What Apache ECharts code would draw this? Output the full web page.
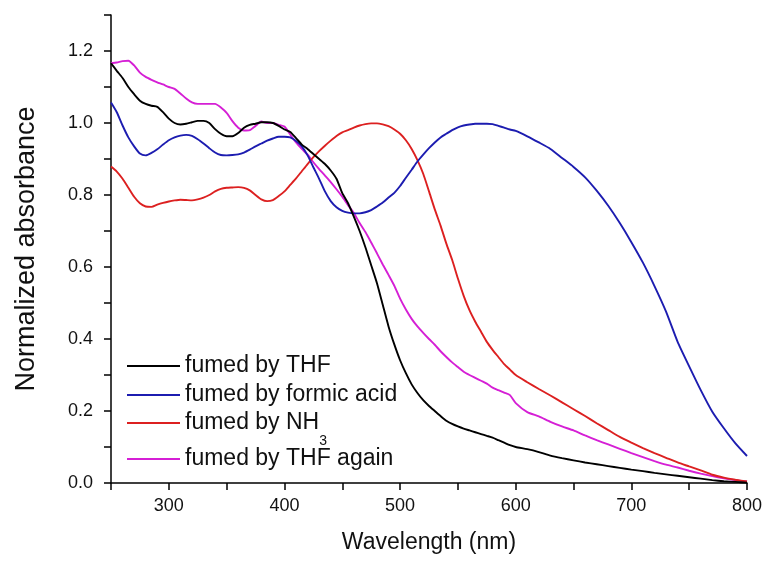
<!DOCTYPE html>
<html>
<head>
<meta charset="utf-8">
<script src="https://cdn.jsdelivr.net/npm/echarts@6/dist/echarts.min.js"></script>
<style>
html,body{margin:0;padding:0;background:#fff;}
#chart{width:768px;height:561px;}
</style>
</head>
<body>
<div id="chart"></div>
<script>
// Wavelength grid (nm)
var wavelengths = [
  250,255,260,265,270,275,280,285,290,295,
  300,305,310,315,320,325,330,335,340,345,
  350,355,360,365,370,375,380,385,390,395,
  400,405,410,415,420,425,430,435,440,445,
  450,455,460,465,470,475,480,485,490,495,
  500,505,510,515,520,525,530,535,540,545,
  550,555,560,565,570,575,580,585,590,595,
  600,610,620,630,640,650,660,670,680,690,
  700,710,720,730,740,750,760,770,780,790,
  800
];
var fumedTHF = [
  1.166,1.145,1.125,1.100,1.080,1.062,1.053,1.048,1.045,1.030,
  1.012,1.000,0.996,0.998,1.002,1.006,1.006,1.000,0.983,0.970,
  0.963,0.963,0.972,0.987,0.995,0.998,1.002,1.002,1.000,0.992,
  0.982,0.975,0.958,0.940,0.928,0.914,0.900,0.886,0.868,0.845,
  0.805,0.777,0.740,0.700,0.655,0.605,0.555,0.495,0.435,0.385,
  0.341,0.305,0.274,0.250,0.230,0.214,0.200,0.186,0.173,0.164,
  0.157,0.151,0.146,0.141,0.136,0.131,0.126,0.119,0.112,0.105,
  0.100,0.094,0.086,0.076,0.069,0.063,0.057,0.052,0.047,0.042,
  0.037,0.033,0.028,0.024,0.020,0.016,0.012,0.008,0.005,0.003,
  0.001
];
var fumedFormic = [
  1.057,1.030,0.993,0.960,0.935,0.915,0.910,0.917,0.927,0.940,
  0.952,0.960,0.965,0.967,0.964,0.955,0.943,0.930,0.918,0.911,
  0.910,0.911,0.913,0.918,0.926,0.935,0.943,0.951,0.957,0.962,
  0.962,0.960,0.950,0.935,0.910,0.877,0.845,0.810,0.783,0.766,
  0.756,0.751,0.749,0.749,0.752,0.758,0.768,0.779,0.793,0.806,
  0.825,0.848,0.870,0.893,0.912,0.930,0.946,0.960,0.970,0.980,
  0.988,0.993,0.996,0.998,0.998,0.998,0.997,0.992,0.987,0.982,
  0.978,0.963,0.946,0.928,0.903,0.878,0.849,0.812,0.770,0.722,
  0.669,0.612,0.547,0.476,0.392,0.324,0.258,0.198,0.152,0.110,
  0.075
];
var fumedNH3 = [
  0.879,0.865,0.845,0.820,0.795,0.777,0.768,0.767,0.773,0.778,
  0.782,0.785,0.787,0.786,0.785,0.788,0.793,0.800,0.810,0.817,
  0.820,0.821,0.822,0.820,0.813,0.800,0.788,0.783,0.786,0.797,
  0.810,0.828,0.846,0.866,0.886,0.905,0.922,0.937,0.951,0.964,
  0.974,0.980,0.987,0.993,0.997,0.999,0.999,0.996,0.991,0.982,
  0.970,0.952,0.928,0.897,0.859,0.810,0.760,0.715,0.665,0.620,
  0.568,0.520,0.480,0.448,0.420,0.392,0.370,0.350,0.330,0.315,
  0.300,0.280,0.261,0.243,0.224,0.205,0.186,0.166,0.147,0.128,
  0.112,0.097,0.083,0.070,0.057,0.046,0.035,0.023,0.015,0.009,
  0.004
];
var fumedTHFAgain = [
  1.166,1.168,1.172,1.173,1.160,1.140,1.128,1.120,1.113,1.107,
  1.100,1.095,1.082,1.068,1.057,1.053,1.053,1.053,1.053,1.043,
  1.028,1.005,0.987,0.979,0.980,0.992,1.004,1.000,1.000,0.995,
  0.990,0.968,0.946,0.928,0.912,0.891,0.872,0.854,0.836,0.816,
  0.795,0.772,0.750,0.722,0.697,0.668,0.638,0.607,0.578,0.548,
  0.512,0.482,0.456,0.435,0.417,0.400,0.384,0.366,0.350,0.335,
  0.322,0.309,0.300,0.292,0.284,0.276,0.265,0.258,0.251,0.244,
  0.222,0.197,0.185,0.170,0.157,0.146,0.132,0.119,0.107,0.095,
  0.083,0.072,0.061,0.051,0.043,0.034,0.026,0.019,0.013,0.008,
  0.004
];
var seriesNames = ['fumed by THF', 'fumed by formic acid', 'fumed by NH3', 'fumed by THF again'];
var seriesValues = [fumedTHF, fumedFormic, fumedNH3, fumedTHFAgain];
var seriesColors = ['#000000', '#1c1cb0', '#dc2020', '#d51fd5'];
var legendRowCenters = [366, 395, 423, 459];

var FONT = '"Liberation Sans", Arial, Helvetica, sans-serif';

function pairs(ys) {
  return wavelengths.map(function (x, i) { return [x, ys[i]]; });
}

var series = seriesNames.map(function (name, k) {
  return {
    name: name,
    type: 'line',
    data: pairs(seriesValues[k]),
    symbol: 'none',
    showSymbol: false,
    smooth: 0.2,
    lineStyle: { color: seriesColors[k], width: 1.9 },
    itemStyle: { color: seriesColors[k] },
    z: 10 - k
  };
});

var legends = seriesNames.map(function (name, k) {
  var isNH3 = name === 'fumed by NH3';
  var half = isNH3 ? 25 : 12;
  return {
    data: [name],
    orient: 'vertical',
    left: 127,
    top: legendRowCenters[k] - half,
    padding: 0,
    icon: 'rect',
    itemWidth: 53,
    itemHeight: 2,
    selectedMode: false,
    formatter: function (n) {
      return n === 'fumed by NH3' ? '{a|fumed by NH}{s|3}' : n;
    },
    textStyle: {
      fontFamily: FONT,
      fontSize: 23,
      color: '#111',
      lineHeight: 24,
      rich: {
        a: { fontFamily: FONT, fontSize: 23, color: '#111', lineHeight: 50 },
        s: { fontFamily: FONT, fontSize: 14, color: '#111', lineHeight: 14, verticalAlign: 'bottom' }
      }
    }
  };
});

var chart = echarts.init(document.getElementById('chart'), null, { renderer: 'canvas' });
chart.setOption({
  backgroundColor: '#ffffff',
  animation: false,
  textStyle: { fontFamily: FONT },
  grid: { left: 111, right: 21, top: 15, bottom: 78, containLabel: false },
  legend: legends,
  xAxis: {
    type: 'value',
    min: 250,
    max: 800,
    interval: 50,
    name: 'Wavelength (nm)',
    nameLocation: 'middle',
    nameGap: 48,
    nameTextStyle: { fontFamily: FONT, fontSize: 23, color: '#111' },
    axisLine: { onZero: false, lineStyle: { color: '#000', width: 1.5 } },
    axisTick: { inside: false, length: 7, lineStyle: { color: '#000', width: 1.5 } },
    axisLabel: {
      fontFamily: FONT, fontSize: 18, color: '#111', margin: 14,
      formatter: function (v) { return v % 100 === 0 ? String(v) : ''; }
    },
    splitLine: { show: false }
  },
  yAxis: {
    type: 'value',
    min: 0,
    max: 1.3,
    interval: 0.1,
    name: 'Normalized absorbance',
    nameLocation: 'middle',
    nameGap: 71,
    nameTextStyle: { fontFamily: FONT, fontSize: 27, color: '#111' },
    axisLine: { show: true, onZero: false, lineStyle: { color: '#000', width: 1.5 } },
    axisTick: { show: true, inside: false, length: 7, lineStyle: { color: '#000', width: 1.5 } },
    axisLabel: {
      fontFamily: FONT, fontSize: 18, color: '#111', margin: 18,
      formatter: function (v) { return Math.round(v * 10) % 2 === 0 ? v.toFixed(1) : ''; }
    },
    splitLine: { show: false }
  },
  series: series
});
</script>
</body>
</html>
